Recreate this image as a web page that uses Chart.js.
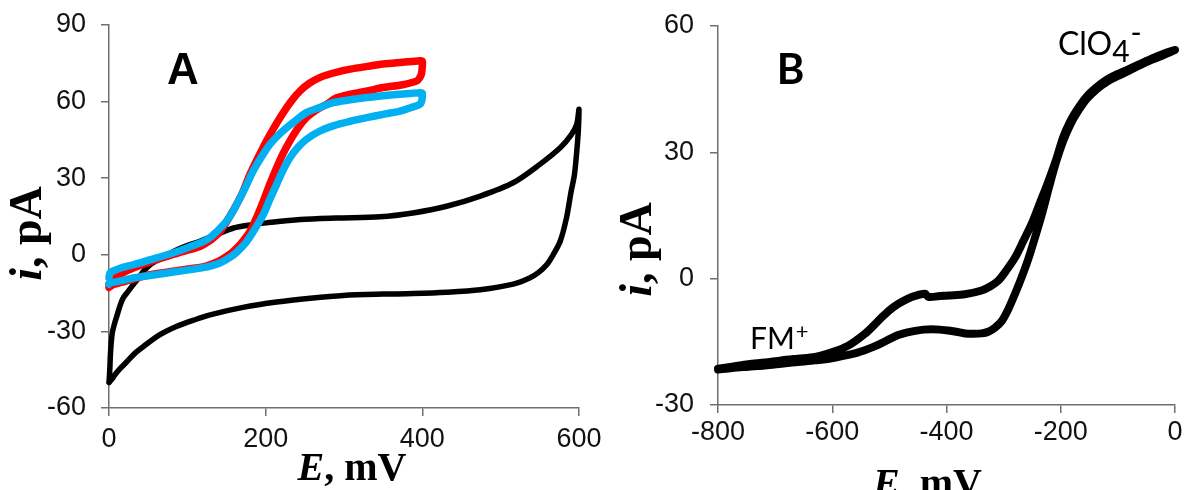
<!DOCTYPE html>
<html>
<head>
<meta charset="utf-8">
<script src="https://cdn.jsdelivr.net/npm/chart.js@4.4.1/dist/chart.umd.min.js"></script>
<style>
  html, body { margin: 0; padding: 0; background: #fff; }
  #wrap { position: relative; width: 1185px; height: 490px; overflow: hidden; }
  canvas { position: absolute; top: 0; }
  #cvA { left: 0; }
  #cvB { left: 610px; }
</style>
</head>
<body>
<div id="wrap">
  <canvas id="cvA" width="610" height="490"></canvas>
  <canvas id="cvB" width="575" height="490"></canvas>
</div>
<script>
// --- panel A: voltammograms, [E mV, i pA] ---
const blankFwd = [
  [0,-50],[1,-45],[2,-38],[4,-31],[7,-27],[10,-24],[14,-20],[18,-17],[24,-14.5],[31,-11.7],
  [38,-9],[44,-6.5],[52,-4],[62,-2],[74,0],[95,3],[116,5.3],[138,8],[159,10.5],[180,11.7],
  [201,12.5],[244,13.8],[290,14.4],[346,14.9],[388,16.4],[431,19],[474,23],[516,28.2],
  [550,35.4],[576,41.9],[590,47],[597,51],[600,57]
];
const blankRev = [
  [599,48],[597,40],[594,31],[590,24.9],[584,14.4],[576,5.3],[567,0],[559,-3.8],[548,-7],
  [537,-9.1],[516,-11.5],[474,-13.7],[431,-14.7],[388,-15.2],[350,-15.4],[299,-15.9],
  [257,-17],[214,-18.5],[171,-20.6],[129,-23.5],[108,-25.6],[86,-28.1],[65,-31.3],
  [44,-35.9],[33,-38.6],[23,-41.8],[15,-44.3],[8,-46.8],[4,-48.6],[0,-50]
];
const redFwd = [
  [0,-11.5],[5.5,-9.1],[18,-7],[31,-5.2],[52,-2.8],[74,-0.6],[95,1.3],[116,3.3],[124,4.6],
  [131,6],[137,7.6],[142,9.2],[147,11.4],[152,13.9],[159,17.6],[170,24],[180,31.5],
  [191,38.5],[201,44.6],[212,50.5],[222.5,55.7],[233,60.3],[244,64.2],[256,67.2],
  [269,69.4],[288,71.3],[308,72.7],[330,73.8],[350,74.7],[375,75.4],[397,76],[400,75.8]
];
const redRev = [
  [400,74],[399,71],[397,69.5],[393,68.1],[375,66.6],[350,65.5],[330,64.2],[308,62.9],
  [290,61.4],[278,59],[264,56.6],[252,53.7],[241,49.5],[231,44.6],[222,39.5],[214,34.1],
  [205,27.5],[197,21],[189,15],[180,9.2],[170,5],[163,2.6],[155,0.4],[145,-1.6],
  [135,-3.2],[125,-4.3],[116,-5],[95,-5.8],[74,-6.8],[52,-7.8],[31,-9.5],[15,-10.8],
  [5.5,-11.7],[0,-12.8]
];
const blueFwd = [
  [0,-9],[1.3,-7.1],[15,-5.2],[31,-3.9],[52,-2],[74,0],[95,2.2],[116,4.6],[123,5.6],[130,7],
  [136,8.6],[142,10.5],[148,12.4],[153,14.5],[158,16.9],[163,19.7],[174,26.3],[184,32.8],
  [195,38.5],[205.5,43.3],[216,46.8],[227,49.8],[240,53],[252,55.7],[270,57.8],[286,59.6],
  [308,60.7],[329,61.6],[350,62.3],[375,63],[397,63.5],[400,63.3]
];
const blueRev = [
  [400,62],[399,60],[397,59],[385,57.6],[371.5,56.3],[350,55],[329,53.7],[308,52.3],
  [286,50.5],[268,48.3],[252,45.2],[241,42],[231,38],[222,33],[214,27.6],[205,21.5],
  [197,15.8],[186,10],[176,5.3],[168,2.5],[160,0.2],[150,-1.8],[140,-3.4],[128,-4.5],
  [116,-5.2],[95,-6.2],[74,-7.1],[52,-8.1],[31,-9.1],[15,-10.2],[1.3,-11.1],[0,-11.5]
];

// --- panel B: single sweep, [E mV, i pA] ---
const fmUpper = [
  [-800,-21.4],[-775,-20.9],[-747,-20.3],[-718,-19.9],[-689,-19.4],[-660,-19],[-630,-18.6],
  [-601,-17.5],[-572,-15.9],[-543,-13.1],[-528,-11.2],[-513.5,-9.2],[-499,-7.4],[-484.5,-6],
  [-470,-4.9],[-455,-4.1],[-437.6,-3.6],[-432,-4.3],[-415,-4.2],[-397,-4],[-368,-3.7],
  [-338.5,-2.8],[-323,-1.8],[-309.5,-0.5],[-295,2],[-280,5],[-266,8.8],[-251,13],[-237,17.8],
  [-222,23],[-208,28.3],[-196,33.5],[-184,37.2],[-172,40],[-155,43.2],[-137,45.5],
  [-120,47.2],[-102,48.5],[-80,49.8],[-61,51],[-40,52.3],[-20,53.4],[0,54.3]
];
const fmLower = [
  [-20,53.1],[-40,52],[-61,50.7],[-80,49.4],[-102,48],[-120,46.7],[-137,45],[-155,42.6],
  [-172,39.3],[-184,36.4],[-196,32.6],[-208,27.8],[-220,22],[-232,15.8],[-245,9.8],
  [-257,4.6],[-268.5,0.3],[-280,-3.6],[-292,-7.3],[-303,-10],[-315,-11.6],[-327,-12.6],
  [-338.5,-13],[-353,-13.1],[-367.6,-13],[-383,-12.6],[-397,-12.3],[-412,-12.1],[-426,-12],
  [-440,-12.1],[-455,-12.4],[-470,-12.8],[-484.5,-13.4],[-499,-14.3],[-513.5,-15.3],
  [-528,-16.2],[-543,-17],[-557,-17.6],[-572,-18.1],[-601,-18.9],[-630,-19.4],[-660,-19.8],
  [-689,-20.2],[-718,-20.6],[-747,-20.9],[-775,-21.2],[-800,-21.6]
];

// axis ranges: [min, max, step]
const rangeAE = [0, 600, 200];
const rangeAI = [-60, 90, 30];
const rangeBE = [-800, 0, 200];
const rangeBI = [-30, 60, 30];

const toXY = (pts) => pts.map(([x, y]) => ({ x, y }));

const SERIF = '"Liberation Serif", "Times New Roman", serif';
const SANS = '"Liberation Sans", Arial, sans-serif';
const CAL = 'Lato, "Open Sans", sans-serif';

// draws a list of text runs with their own fonts and baseline shifts
function drawRuns(ctx, runs, align) {
  let w = 0;
  runs.forEach((r) => {
    ctx.font = r.font;
    w += ctx.measureText(r.text).width + (r.dx || 0);
  });
  let x = align === "center" ? -w / 2 : 0;
  runs.forEach((r) => {
    ctx.font = r.font;
    x += r.dx || 0;
    ctx.fillText(r.text, x, r.dy || 0);
    x += ctx.measureText(r.text).width;
  });
}

function makeLabels(items) {
  return {
    id: "panelLabels",
    afterDraw(chart) {
      const { ctx, chartArea: a, scales } = chart;
      ctx.save();
      ctx.fillStyle = "#000";
      ctx.textBaseline = "alphabetic";
      ctx.textAlign = "left";
      items.forEach((it) => {
        let x, y;
        if (it.value) {
          x = scales.x.getPixelForValue(it.value[0]);
          y = scales.y.getPixelForValue(it.value[1]);
        } else if (it.anchor === "bottom") {
          x = (a.left + a.right) / 2 + it.dx;
          y = a.bottom + it.dy;
        } else {
          x = a.left + it.dx;
          y = (a.top + a.bottom) / 2 + it.dy;
        }
        ctx.save();
        ctx.translate(x, y);
        if (it.rotate) ctx.rotate(it.rotate);
        drawRuns(ctx, it.runs, it.align || "left");
        ctx.restore();
      });
      ctx.restore();
    },
  };
}

function axis(range, pad, size, horizontal) {
  return {
    type: "linear",
    min: range[0],
    max: range[1],
    ticks: {
      stepSize: range[2],
      padding: pad,
      color: "#111",
      font: { family: SANS, size: 27 },
    },
    grid: {
      drawOnChartArea: false,
      drawTicks: true,
      tickLength: 8,
      color: "#6f6f6f",
      lineWidth: 1.5,
    },
    border: { display: true, color: "#6f6f6f", width: 1.5 },
    afterFit(scale) {
      // fixed box size; the end labels may hang over the padding
      if (horizontal) scale.height = size;
      else scale.width = size;
      scale.paddingTop = 0;
      scale.paddingBottom = 0;
      scale.paddingLeft = 0;
      scale.paddingRight = 0;
    },
  };
}

function line(points, color, width, order) {
  return {
    data: toXY(points),
    showLine: true,
    borderColor: color,
    backgroundColor: color,
    borderWidth: width,
    borderJoinStyle: "round",
    borderCapStyle: "round",
    pointRadius: 0,
    tension: 0.3,
    fill: false,
    clip: false,
    order,
  };
}

function panel(canvas, datasets, rangeE, rangeI, geom, items) {
  return new Chart(canvas, {
    type: "scatter",
    data: { datasets },
    options: {
      responsive: false,
      animation: false,
      devicePixelRatio: 1,
      layout: { padding: geom.pad },
      plugins: { legend: { display: false }, tooltip: { enabled: false } },
      scales: {
        x: axis(rangeE, geom.xPad, geom.xH, true),
        y: axis(rangeI, geom.yPad, geom.yW, false),
      },
    },
    plugins: [makeLabels(items)],
  });
}

const titleE = [
  { text: "E", font: `italic bold 40px ${SERIF}` },
  { text: ", mV", font: `bold 40px ${SERIF}` },
];
const titleI = [
  { text: "i", font: `italic bold 46px ${SERIF}` },
  { text: ", pA", font: `bold 46px ${SERIF}` },
];

panel(
  document.getElementById("cvA"),
  [
    line(blankFwd.concat(blankRev), "#000000", 5.5, 3),
    line(redFwd.concat(redRev), "#ff0000", 7.5, 2),
    line(blueFwd.concat(blueRev), "#00b0f0", 7.5, 1),
  ],
  rangeAE,
  rangeAI,
  { pad: { top: 25, right: 31, bottom: 0, left: 0 }, xH: 82, yW: 109, xPad: 7, yPad: 15 },
  [
    { value: [74, 67], runs: [{ text: "A", font: `bold 44px ${SANS}` }] },
    { anchor: "bottom", dx: 8, dy: 72, align: "center", runs: titleE },
    { anchor: "left", dx: -68, dy: 17, align: "center", rotate: -Math.PI / 2, runs: titleI },
  ]
);

panel(
  document.getElementById("cvB"),
  [line(fmUpper.concat(fmLower), "#000000", 8, 1)],
  rangeBE,
  rangeBI,
  { pad: { top: 26, right: 10, bottom: 0, left: 0 }, xH: 85, yW: 108, xPad: 3, yPad: 16 },
  [
    { value: [-697, 46.2], runs: [{ text: "B", font: `bold 42px ${CAL}` }] },
    {
      value: [-205, 53.2],
      runs: [
        { text: "ClO", font: `32px ${CAL}` },
        { text: "4", font: `30px ${CAL}`, dy: 7 },
        { text: "-", font: `30px ${CAL}`, dy: -12, dx: 1 },
      ],
    },
    {
      value: [-744, -16.8],
      runs: [
        { text: "FM", font: `30px ${CAL}` },
        { text: "+", font: `22px ${CAL}`, dy: -10, dx: 1 },
      ],
    },
    { anchor: "bottom", dx: -19, dy: 91, align: "center", runs: titleE },
    { anchor: "left", dx: -67, dy: 34, align: "center", rotate: -Math.PI / 2, runs: titleI },
  ]
);
</script>
</body>
</html>
